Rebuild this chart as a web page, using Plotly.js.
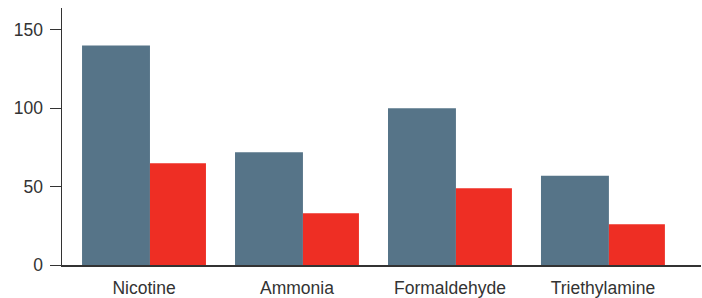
<!DOCTYPE html>
<html>
<head>
<meta charset="utf-8">
<script src="https://cdn.plot.ly/plotly-3.0.1.min.js"></script>
<style>html,body{margin:0;padding:0;background:#fff;}#chart{width:702px;height:298px;}</style>
</head>
<body>
<div id="chart"></div>
<script>
var categories = ["Nicotine", "Ammonia", "Formaldehyde", "Triethylamine"];
var seriesA = [140, 72, 100, 57];
var seriesB = [65, 33, 49, 26];
var yTicks = [0, 50, 100, 150];

var traces = [
  {type: "bar", x: categories, y: seriesA, width: 0.444, offset: -0.405,
   marker: {color: "#567488", line: {width: 0}}, hoverinfo: "none"},
  {type: "bar", x: categories, y: seriesB, width: 0.366, offset: 0.039,
   marker: {color: "#ee2e24", line: {width: 0}}, hoverinfo: "none"}
];

var layout = {
  width: 702, height: 298,
  margin: {l: 62, r: 1, t: 8, b: 33},
  barmode: "overlay",
  showlegend: false,
  paper_bgcolor: "#fff", plot_bgcolor: "#fff",
  font: {family: "Liberation Sans, Arial, sans-serif", size: 17.5, color: "#333"},
  xaxis: {
    type: "category", range: [-0.536, 3.641],
    showline: true, linecolor: "#333", linewidth: 1.5,
    showgrid: false, zeroline: false, ticks: "",
    layer: "below traces", ticklabelstandoff: 6,
    tickfont: {size: 17.5, color: "#333"}
  },
  yaxis: {
    range: [0, 164], tickvals: yTicks, ticktext: yTicks.map(String),
    showline: true, linecolor: "#333", linewidth: 1.5,
    showgrid: false, zeroline: false,
    ticks: "outside", ticklen: 11, tickcolor: "#333", tickwidth: 1,
    ticklabelstandoff: 3,
    tickfont: {size: 17.5, color: "#333"}
  }
};

Plotly.newPlot("chart", traces, layout, {staticPlot: true, displayModeBar: false});
</script>
</body>
</html>
